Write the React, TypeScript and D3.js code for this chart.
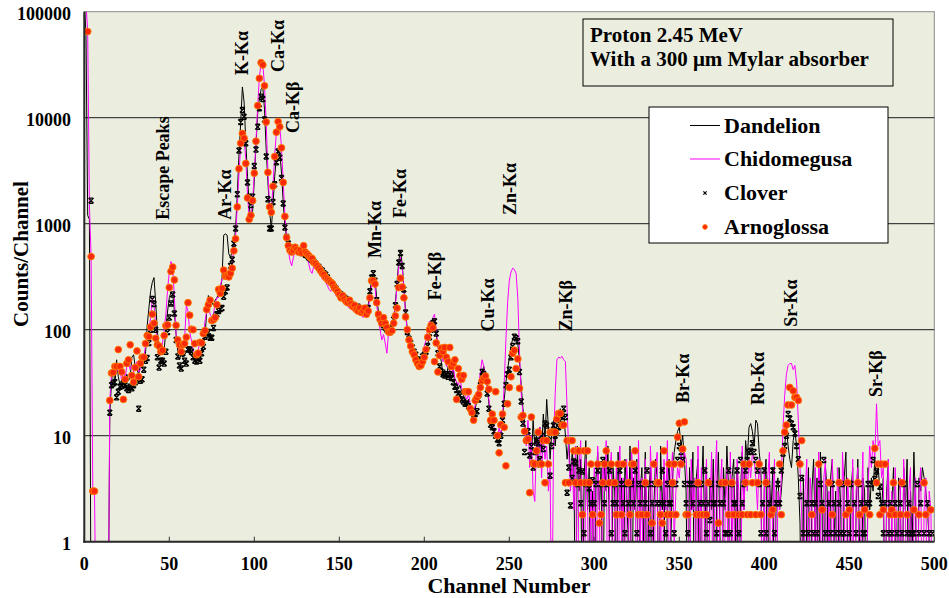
import React from 'react';
import * as d3 from 'd3';

// Counts per channel (index = channel number 0..500). 0 = no counts.
const dandelion = [
  130000, 60000, 1200, 1100, 0, 0, 0, 0, 0, 0,
  0, 0, 0, 0, 0, 16, 32, 45, 30, 52,
  36, 30, 34, 32, 30, 38, 33, 36, 55, 58,
  44, 42, 38, 46, 44, 50, 60, 110, 160, 230,
  280, 310, 180, 95, 70, 60, 58, 65, 100, 150,
  200, 225, 215, 150, 90, 62, 52, 60, 55, 58,
  62, 65, 60, 58, 55, 56, 52, 54, 52, 60,
  72, 85, 150, 210, 190, 180, 170, 190, 200, 220,
  240, 300, 780, 800, 780, 520, 480, 560, 650, 900,
  1900, 4500, 9000, 19500, 14000, 6000, 2800, 1500, 1050, 1300,
  2600, 5500, 11000, 15000, 18500, 19500, 12000, 5000, 2500, 1300,
  900, 1500, 2800, 4200, 5000, 4800, 3000, 1600, 950, 750,
  680, 620, 600, 590, 610, 580, 570, 560, 540, 560,
  530, 520, 500, 480, 470, 450, 430, 420, 400, 390,
  370, 350, 340, 320, 300, 290, 280, 265, 250, 240,
  230, 220, 210, 205, 200, 190, 185, 180, 175, 170,
  165, 170, 160, 155, 150, 160, 150, 170, 220, 300,
  340, 300, 200, 150, 130, 115, 120, 110, 105, 100,
  100, 110, 130, 180, 280, 450, 550, 420, 250, 150,
  100, 85, 80, 70, 65, 60, 55, 52, 55, 58,
  60, 65, 70, 90, 110, 120, 125, 90, 70, 60,
  50, 38, 42, 36, 45, 40, 34, 42, 30, 32,
  28, 30, 26, 24, 22, 20, 22, 18, 17, 16,
  18, 22, 30, 36, 40, 45, 38, 30, 20, 14,
  12, 11, 10, 8.5, 9, 10, 14, 22, 32, 42,
  55, 70, 82, 86, 80, 75, 50, 30, 18, 13,
  10, 12, 9, 6, 14, 8, 10, 5, 12, 7,
  16, 9, 22, 12, 6, 11, 14, 8, 13, 16,
  18, 14, 17, 10, 6, 9, 4, 7, 5, 0,
  8, 3, 6, 0, 4, 9, 2, 5, 0, 3,
  0, 4, 7, 2, 5, 0, 6, 3, 8, 1,
  0, 5, 3, 0, 7, 2, 4, 0, 6, 3,
  1, 8, 0, 4, 2, 6, 0, 3, 5, 1,
  7, 0, 3, 5, 0, 2, 6, 4, 0, 8,
  2, 5, 0, 3, 6, 1, 4, 7, 9, 11,
  12, 8, 10, 6, 3, 0, 5, 2, 7, 0,
  4, 6, 0, 3, 8, 1, 5, 0, 4, 2,
  6, 0, 3, 7, 1, 0, 5, 2, 8, 3,
  0, 4, 6, 1, 5, 0, 3, 7, 2, 9,
  6, 12, 13, 11, 8, 14, 13, 7, 5, 0,
  3, 6, 0, 4, 2, 5, 0, 3, 4, 2,
  3, 5, 8, 12, 8, 6, 5, 9, 11, 8,
  4, 1.5, 0, 4, 0, 2, 5, 0, 3, 6,
  1, 4, 0, 7, 2, 0, 5, 3, 0, 4,
  6, 1, 3, 0, 5, 2, 0, 4, 7, 1,
  0, 3, 5, 0, 2, 6, 1, 0, 4, 3,
  0, 5, 2, 4, 3, 6, 4, 5, 3, 2,
  4, 0, 3, 6, 0, 2, 5, 1, 0, 4,
  3, 0, 5, 2, 6, 0, 3, 1, 7, 2,
  0, 4, 3, 5, 4, 3, 2, 1, 0, 1,
  0,
];

const chidomegusa = [
  150000, 120000, 65000, 1500, 490, 3, 3, 0, 0, 0,
  0, 0, 0, 0, 0, 22, 38, 40, 45, 40,
  44, 42, 33, 40, 35, 45, 50, 42, 46, 40,
  45, 50, 40, 42, 48, 55, 70, 85, 100, 130,
  200, 170, 110, 80, 65, 60, 75, 100, 140, 240,
  350, 440, 380, 200, 90, 70, 60, 62, 70, 80,
  170, 150, 95, 80, 65, 60, 58, 65, 75, 70,
  85, 120, 150, 170, 140, 130, 140, 180, 200, 200,
  260, 300, 340, 380, 300, 330, 400, 420, 600, 750,
  1500, 3000, 5500, 7500, 6500, 4000, 1900, 1100, 1150, 1600,
  3000, 6000, 13000, 24000, 33000, 32000, 20000, 9000, 3100, 1450,
  1300, 2300, 4400, 7400, 9300, 8300, 5200, 2500, 1200, 740,
  560, 450, 400, 480, 560, 540, 560, 520, 500, 540,
  500, 480, 420, 360, 340, 400, 420, 380, 350, 330,
  300, 320, 280, 260, 240, 230, 260, 240, 210, 220,
  200, 190, 200, 180, 175, 165, 160, 165, 150, 155,
  150, 140, 155, 145, 130, 140, 150, 160, 200, 260,
  300, 250, 170, 130, 100, 80, 90, 75, 60, 95,
  100, 105, 120, 170, 260, 400, 480, 380, 240, 140,
  95, 75, 70, 62, 58, 52, 50, 45, 55, 60,
  70, 80, 100, 120, 110, 130, 140, 100, 70, 55,
  60, 50, 55, 45, 50, 42, 38, 45, 35, 32,
  30, 34, 28, 25, 24, 22, 25, 20, 18, 16,
  20, 25, 30, 40, 52, 45, 35, 28, 22, 16,
  14, 12, 10, 9, 12, 10, 14, 31, 80, 180,
  290, 350, 380, 370, 340, 200, 60, 25, 16, 12,
  8, 14, 5, 10, 3, 2.4, 9, 6, 12, 4,
  10, 6, 8, 3, 5, 0, 8, 25, 52, 55,
  54, 56, 52, 50, 18, 7, 3, 6, 2, 8,
  0, 5, 9, 2, 0, 6, 3, 0, 4, 1,
  5, 0, 8, 2, 0, 6, 3, 9, 0, 4,
  7, 0, 2, 5, 0, 8, 1, 4, 0, 6,
  3, 0, 7, 2, 5, 0, 9, 1, 4, 0,
  6, 2, 0, 8, 3, 0, 5, 7, 0, 3,
  0, 6, 2, 9, 0, 4, 7, 1, 3, 5,
  4, 7, 5, 7, 6, 3, 0, 6, 2, 4,
  0, 8, 1, 5, 0, 3, 6, 0, 2, 7,
  0, 4, 9, 0, 3, 6, 0, 2, 5, 0,
  7, 1, 4, 0, 6, 3, 0, 8, 2, 5,
  3, 6, 4, 7, 6, 4, 2, 6, 3, 0,
  5, 0, 4, 7, 0, 2, 6, 0, 3, 2,
  4, 12, 24, 38, 46, 48, 48, 42, 46, 32,
  14, 5, 1.7, 0, 3, 6, 0, 4, 2, 0,
  5, 0, 7, 2, 0, 4, 6, 0, 3, 0,
  6, 1, 0, 5, 2, 0, 7, 3, 0, 4,
  2, 0, 6, 0, 3, 5, 0, 2, 7, 0,
  0, 3, 8, 5, 9, 6, 20, 8, 9, 4,
  5, 0, 2, 6, 0, 3, 0, 5, 1, 0,
  4, 0, 6, 2, 0, 3, 5, 0, 2, 4,
  0, 3, 5, 0, 2, 4, 0, 3, 2, 0,
  1,
];

const clover = [
  0, 0, 0, 0, 1650, 0, 0, 0, 0, 0,
  0, 0, 0, 0, 0, 16.5, 30, 31, 32, 23,
  26, 29, 29.5, 31, 30, 28, 27, 29, 28, 30,
  32, 34, 18, 33, 34, 42, 51, 54, 75, 100,
  195, 175, 100, 55, 44, 51, 51, 48, 62, 95,
  130, 177, 215, 142, 80, 56, 46, 43, 60, 51,
  48, 65, 65, 62, 55, 51, 50, 54, 51, 60,
  69, 86, 90, 95, 84, 84, 104, 132, 140, 150,
  157, 160, 205, 230, 250, 330, 400, 460, 650, 900,
  1900, 4900, 9100, 11800, 10200, 5750, 2450, 1800, 1500, 1800,
  3500, 5000, 8200, 12300, 15800, 15000, 9600, 4300, 1700, 900,
  900, 1600, 2350, 3800, 4800, 4200, 2700, 1550, 920, 750,
  650, 600, 580, 570, 590, 560, 550, 540, 530, 540,
  510, 500, 480, 470, 450, 440, 420, 400, 390, 370,
  360, 340, 330, 310, 290, 280, 270, 255, 245, 230,
  220, 215, 205, 200, 195, 185, 180, 175, 170, 165,
  160, 165, 155, 150, 150, 155, 145, 160, 230, 310,
  340, 290, 190, 140, 125, 115, 110, 105, 100, 98,
  95, 105, 125, 170, 270, 430, 530, 400, 240, 145,
  95, 82, 75, 68, 62, 58, 52, 50, 52, 56,
  58, 62, 70, 85, 100, 115, 120, 92, 60, 45,
  40, 38, 37, 38, 36, 38, 35, 32, 29, 27,
  25, 24, 22, 21, 20, 20, 19, 18, 17, 16,
  16, 17, 22, 30, 40, 38, 36, 25, 18, 12.7,
  12, 11, 10, 9.2, 8.5, 10, 14, 20, 30, 38,
  42, 55, 70, 86, 83, 78, 40, 21, 13, 7,
  9, 11, 6.5, 8, 5, 7, 9, 8.5, 6, 10,
  7.5, 13, 12.5, 9, 4.2, 8, 12.5, 10, 11, 12,
  14, 16, 18, 15, 2.9, 5, 2.2, 4, 5.7, 5.5,
  3.5, 4.7, 2.3, 4.6, 1.2, 3.5, 0, 3.2, 2.3, 3.8,
  2.3, 3.5, 4.7, 0, 3.5, 5.9, 2.3, 3.5, 0, 4.7,
  1.2, 2.3, 3.5, 2.3, 0, 4.7, 3.5, 2.3, 1.2, 3.5,
  2.3, 0, 3.5, 2.3, 4.7, 1.2, 3.5, 2.3, 0, 3.5,
  2.3, 4.7, 3.5, 1.2, 2.3, 3.5, 0, 2.3, 3.5, 2.3,
  4.7, 2.3, 1.2, 3.5, 2.3, 2.3, 3.5, 1.2, 3.5, 5.9,
  8, 7, 5.9, 3.5, 2.3, 1.2, 3.5, 3.5, 2.3, 0,
  3.5, 3.5, 2.3, 3.5, 2.3, 4.7, 1.2, 2.3, 1.6, 3.5,
  2.3, 2.3, 1.2, 3.5, 2.3, 3.5, 2.3, 1.2, 1.2, 4.7,
  1.2, 3.5, 2.3, 2.3, 4.7, 1.2, 5.9, 2.3, 3.5, 4.7,
  5.9, 7, 7.2, 8.5, 7, 5.9, 4.7, 3.5, 1.2, 2.3,
  4.7, 1.2, 3.5, 2.3, 0, 4.7, 1.2, 2.3, 3.5, 2.3,
  4.7, 6.8, 8, 10, 16, 14.5, 13, 12, 10.5, 8,
  6, 2.7, 4, 1.2, 0, 2.3, 1.2, 0, 2.3, 1.2,
  2.3, 1.2, 0, 3.5, 2.3, 5.9, 1.2, 0, 2.3, 1.2,
  3.5, 2.3, 1.2, 0, 2.3, 1.2, 3.5, 1.2, 0, 2.3,
  1.2, 3.5, 0, 2.3, 1.2, 0, 3.5, 2.3, 1.2, 1.2,
  2.3, 3.5, 2.3, 3.5, 5.9, 3.9, 4.6, 2.7, 3.3, 2.3,
  1.2, 2.3, 0, 1.2, 2.3, 1.2, 0, 2.3, 1.2, 0,
  2.3, 1.2, 3.5, 0, 1.2, 2.3, 1.2, 1.2, 1.2, 0,
  3.5, 1.2, 2.3, 0, 1.2, 0, 2.3, 1.2, 0, 1.2,
  0,
];

const arnoglossa = [
  0, 0, 65000, 0, 490, 3, 3, 0, 0, 0,
  0, 0, 0, 0, 0, 21.5, 39, 39.5, 45, 45,
  65, 45, 40, 22, 34, 48, 52, 72, 37, 32,
  44, 63, 36, 48, 55, 55, 74, 88, 86, 106,
  140, 115, 83, 72, 70, 62, 64, 88, 109, 111,
  250, 355, 390, 295, 110, 80, 72, 62, 72, 74,
  85, 180, 137, 101, 100, 74, 58, 60, 76, 75,
  92, 98, 155, 172, 190, 122, 124, 130, 172, 240,
  220, 245, 365, 320, 320, 315, 340, 380, 555, 720,
  1440, 3300, 5750, 7100, 6400, 3700, 1750, 1100, 1200, 1650,
  3000, 6000, 13000, 23500, 33000, 31500, 20000, 9100, 3050, 1440,
  1280, 2250, 4300, 7300, 9200, 8200, 5200, 2450, 1170, 740,
  620, 560, 540, 560, 600, 570, 540, 560, 530, 620,
  540, 520, 500, 480, 470, 430, 420, 400, 380, 360,
  340, 330, 310, 300, 290, 280, 270, 250, 240, 230,
  215, 200, 210, 195, 185, 180, 190, 175, 165, 170,
  155, 150, 160, 145, 150, 160, 140, 150, 200, 290,
  290, 270, 180, 140, 125, 115, 130, 115, 105, 95,
  95, 98, 115, 135, 160, 250, 306, 253, 200, 132,
  100, 80, 70, 62, 58, 52, 48, 45, 46, 50,
  55, 65, 85, 100, 110, 104, 50, 75, 40, 57,
  67, 62, 68, 55, 50, 68, 45, 48, 52, 22,
  43, 37, 34, 37, 26, 26, 26, 18, 16.5, 14,
  21.5, 23, 24.5, 28.5, 33, 35, 36.5, 32.5, 27.5, 14,
  16, 14, 26, 10, 6.9, 12.7, 16, 12, 5.2, 20,
  28.5, 36, 60, 64, 43, 53, 28, 15, 15.5, 11,
  9, 9.3, 2.9, 15, 5.5, 5.4, 7.2, 10.8, 5.4, 5.4,
  9, 3.6, 9, 5.4, 10.8, 10.8, 10.8, 10.8, 14.4, 16.2,
  16.2, 12.6, 12.6, 3.6, 9, 3.6, 9, 9, 7.2, 3.6,
  7.2, 7.2, 3.6, 1.8, 7.2, 3.6, 7.2, 3.6, 5.4, 1.8,
  0, 0, 5.4, 1.5, 1.8, 3.6, 5.4, 7.2, 0, 3.6,
  5.4, 0, 3.6, 1.8, 5.4, 0, 1.8, 5.4, 0, 0,
  3.6, 1.8, 5.4, 5.4, 7.2, 0, 1.8, 0, 1.8, 0,
  3.6, 1.8, 0, 0, 1.5, 5.4, 0, 3.6, 3.6, 1.8,
  1.5, 7.2, 0, 1.8, 5.4, 1.8, 3.6, 5.4, 1.8, 9.7,
  13.1, 5.4, 7.5, 13.5, 1.8, 1.8, 0, 0, 0, 0,
  1.8, 3.6, 1.8, 0, 1.8, 0, 1.8, 3.6, 0, 0,
  0, 0, 0, 1.5, 0, 3.6, 0, 3.6, 0, 1.8,
  0, 3.6, 1.8, 0, 0, 1.8, 0, 1.8, 5.4, 3.6,
  1.8, 5.4, 1.8, 3.6, 0, 1.8, 3.6, 5.4, 1.8, 0,
  0, 3.6, 0, 0, 1.8, 2, 0, 0, 0, 5.4,
  1.8, 7.2, 10.8, 12.6, 19.5, 28.5, 19.5, 26.5, 23, 23,
  21.5, 5.4, 9, 0, 0, 0, 0, 0, 1.8, 0,
  0, 0, 5.4, 0, 2, 0, 0, 0, 3.6, 0,
  1.8, 0, 0, 0, 3.6, 0, 0, 0, 1.8, 3.6,
  2, 0, 0, 0, 0, 3.6, 1.8, 0, 0, 2,
  0, 0, 1.8, 0, 0, 7.6, 3.6, 5.4, 1.8, 5.4,
  2, 5.4, 0, 0, 1.8, 2, 3.6, 1.8, 0, 0,
  1.8, 3.6, 0, 0, 1.8, 0, 0, 0, 2, 0,
  0, 1.8, 0, 0, 3.6, 1.8, 0, 0, 2, 0,
  0,
];

const countTicks = [1, 10, 100, 1000, 10000, 100000];
const channelTicks = [0, 50, 100, 150, 200, 250, 300, 350, 400, 450, 500];

// Peak labels, anchored at (channel, counts) where the vertical text begins
const peakLabels = [
  { text: 'Escape Peaks', channel: 49.8, counts: 1087 },
  { text: 'Ar-K\u03b1', channel: 86.3, counts: 1087 },
  { text: 'K-K\u03b1', channel: 96, counts: 25300 },
  { text: 'Ca-K\u03b1', channel: 117.5, counts: 27000 },
  { text: 'Ca-K\u03b2', channel: 126.3, counts: 7170 },
  { text: 'Mn-K\u03b1', channel: 174.5, counts: 475 },
  { text: 'Fe-K\u03b1', channel: 189.2, counts: 1132 },
  { text: 'Fe-K\u03b2', channel: 209.8, counts: 190 },
  { text: 'Cu-K\u03b1', channel: 241, counts: 96 },
  { text: 'Zn-K\u03b1', channel: 254.2, counts: 1208 },
  { text: 'Zn-K\u03b2', channel: 286.9, counts: 96 },
  { text: 'Br-K\u03b1', channel: 355.7, counts: 20.3 },
  { text: 'Rb-K\u03b1', channel: 399.8, counts: 19.5 },
  { text: 'Sr-K\u03b1', channel: 419.5, counts: 106.7 },
  { text: 'Sr-K\u03b2', channel: 469.2, counts: 23.2 },
];

const FONT = "'Liberation Serif', 'Times New Roman', Times, serif";
const BG = '#EBEEDF';
const DOT_FILL = '#F8280A';
const DOT_EDGE = '#FF7A00';

const cloverPath = 'M-2.5,-2.5L2.5,2.5M-2.5,2.5L2.5,-2.5M-2.2,-2.6H2.2M-2.2,2.6H2.2';

export default function App() {
  const W = 949;
  const H = 598;
  const left = 84.3;
  const right = 934.3;
  const top = 11.7;
  const bottom = 541.7;

  const x = d3.scaleLinear().domain([0, 500]).range([left, right]);
  const y = d3.scaleLog().domain([1, 100000]).range([bottom, top]);
  const FLOOR = 0.1; // zero counts fall below the axis and are clipped

  const line = d3
    .line<number>()
    .x((_, i) => x(i))
    .y((v) => y(Math.max(v, FLOOR)));

  const pts = (arr: number[]) =>
    arr.map((v, i) => ({ ch: i, v })).filter((d) => d.v > 0);

  return (
    <svg
      width={W}
      height={H}
      viewBox={`0 0 ${W} ${H}`}
      style={{ position: 'absolute', left: 0, top: 0, display: 'block', background: '#fff' }}
      fontFamily={FONT}
    >
      <defs>
        <clipPath id="plot-clip">
          <rect x={left} y={top} width={right - left} height={bottom - top} />
        </clipPath>
      </defs>

      <rect x={left} y={top} width={right - left} height={bottom - top} fill={BG} stroke="#8a8a8a" strokeWidth={1} />

      {countTicks.slice(1, -1).map((t) => (
        <line key={t} x1={left} x2={right} y1={y(t)} y2={y(t)} stroke="#1a1a1a" strokeWidth={1} />
      ))}

      {/* x ticks point inward */}
      {channelTicks.map((t) => (
        <line key={t} x1={x(t)} x2={x(t)} y1={bottom} y2={bottom - 5} stroke="#333" strokeWidth={1} />
      ))}

      <g clipPath="url(#plot-clip)">
        <path d={line(dandelion) || ''} fill="none" stroke="#000" strokeWidth={1} strokeLinejoin="round" />
        <path d={line(chidomegusa) || ''} fill="none" stroke="#FF00FF" strokeWidth={1} strokeLinejoin="round" />
        {pts(clover).map((d) => (
          <path
            key={`c${d.ch}`}
            d={cloverPath}
            transform={`translate(${x(d.ch)},${y(d.v)})`}
            stroke="#000"
            strokeWidth={1.3}
            fill="none"
          />
        ))}
        {pts(arnoglossa).map((d) => (
          <circle
            key={`a${d.ch}`}
            cx={x(d.ch)}
            cy={y(d.v)}
            r={3.4}
            fill={DOT_FILL}
            stroke={DOT_EDGE}
            strokeWidth={0.9}
          />
        ))}
      </g>

      {/* axes */}
      <line x1={left} x2={left} y1={top} y2={bottom + 1} stroke="#2a2a2a" strokeWidth={2} />
      <line x1={left - 1} x2={right} y1={bottom} y2={bottom} stroke="#2a2a2a" strokeWidth={2} />

      {countTicks.map((t) => (
        <text key={t} x={71} y={y(t) + 8} textAnchor="end" fontSize={18} fontWeight="bold">
          {t}
        </text>
      ))}
      {channelTicks.map((t) => (
        <text key={t} x={x(t)} y={570} textAnchor="middle" fontSize={18} fontWeight="bold">
          {t}
        </text>
      ))}

      <text x={509} y={593} textAnchor="middle" fontSize={22} fontWeight="bold">
        Channel Number
      </text>
      <text
        transform={`translate(28,254) rotate(-90)`}
        textAnchor="middle"
        fontSize={21}
        fontWeight="bold"
      >
        Counts/Channel
      </text>

      {peakLabels.map((p) => (
        <text
          key={p.text}
          transform={`translate(${x(p.channel)},${y(p.counts)}) rotate(-90)`}
          fontSize={18}
          fontWeight="bold"
        >
          {p.text}
        </text>
      ))}

      {/* beam conditions */}
      <rect x={583} y={19} width={310} height={67} fill={BG} stroke="#000" strokeWidth={1} />
      <text x={590} y={42} fontSize={21} fontWeight="bold">
        Proton 2.45 MeV
      </text>
      <text x={590} y={66} fontSize={21} fontWeight="bold">
        With a 300 {'\u03bc'}m Mylar absorber
      </text>

      {/* legend */}
      <rect x={649} y={107} width={239} height={136} fill="#fff" stroke="#000" strokeWidth={1} />
      <line x1={690} x2={720} y1={125.5} y2={125.5} stroke="#000" strokeWidth={1} />
      <line x1={690} x2={720} y1={159} y2={159} stroke="#FF00FF" strokeWidth={1} />
      <path d="M-1.6,-1.6L1.6,1.6M-1.6,1.6L1.6,-1.6" transform="translate(705,193)" stroke="#000" strokeWidth={1.2} />
      <circle cx={705} cy={227} r={2.4} fill={DOT_FILL} stroke={DOT_EDGE} strokeWidth={0.8} />
      <text x={724} y={132.5} fontSize={22} fontWeight="bold">Dandelion</text>
      <text x={724} y={166} fontSize={22} fontWeight="bold">Chidomegusa</text>
      <text x={724} y={200} fontSize={22} fontWeight="bold">Clover</text>
      <text x={724} y={234} fontSize={22} fontWeight="bold">Arnoglossa</text>
    </svg>
  );
}
